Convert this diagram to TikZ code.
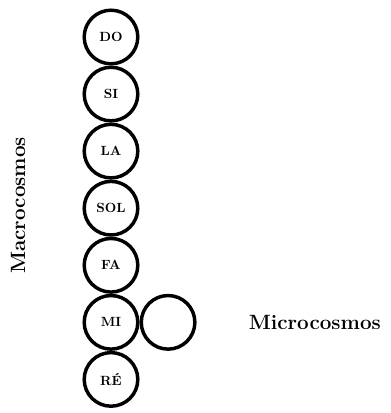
\documentclass[tikz,border=0pt]{standalone}
\usepackage{tikz}
\usetikzlibrary{positioning}
\tikzset{
    note/.style={
        circle,
        draw=black,
        line width=2.6pt,
        minimum size=40.2pt,
        inner sep=0pt,
        font=\fontsize{10}{10}\selectfont\bfseries
    },
    cosmos/.style={
        inner sep=0pt,
        font=\fontsize{15.5}{15.5}\selectfont\bfseries
    }
}

\begin{document}
\begin{tikzpicture}[node distance=0pt]

% Frame
\useasboundingbox (0,0) rectangle (293.25pt,-309.75pt);

% --- Scale of notes ---
\node[note] (do) at (83.25pt,-27.75pt) {DO};
\node[note, below=of do] (si) {SI};
\node[note, below=of si] (la) {LA};
\node[note, below=of la] (sol) {SOL};
\node[note, below=of sol] (fa) {FA};
\node[note, below=of fa] (mi) {MI};
\node[note, below=of mi] (re) {R\'E};

% Empty circle beside MI
\node[note, right=of mi] (micro) {};

% Labels
\node[cosmos, right=39pt of micro] (microlabel) {Microcosmos};
\node[cosmos, rotate=90] (macrolabel) at (13.5pt,-154pt) {Macrocosmos};

\end{tikzpicture}
\end{document}
